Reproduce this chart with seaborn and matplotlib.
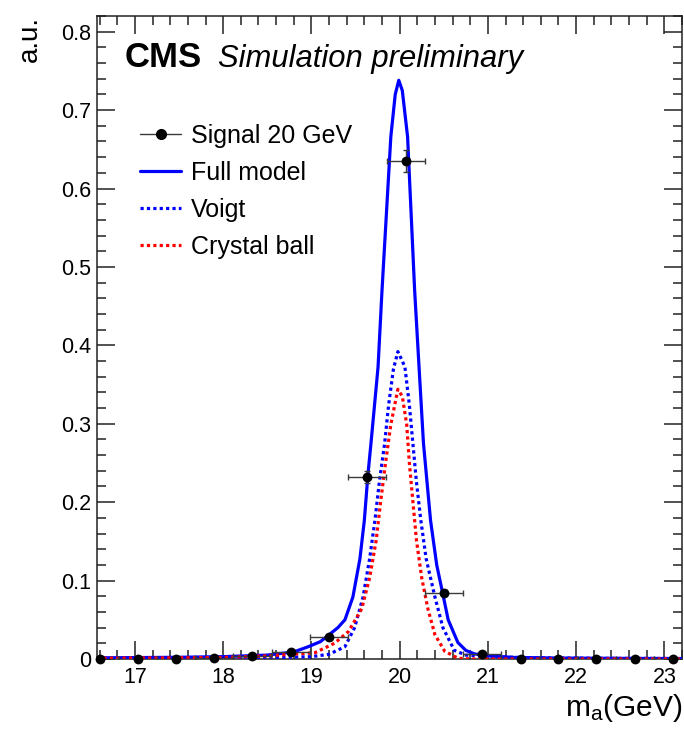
import numpy as np
import pandas as pd
import matplotlib
matplotlib.use("Agg")
import matplotlib.pyplot as plt
from matplotlib.lines import Line2D
from matplotlib.ticker import MultipleLocator
import seaborn as sns

# Binned signal sample (m_a = 20 GeV)
bin_centers = [16.60, 17.03, 17.47, 17.90, 18.33, 18.77, 19.20, 19.63,
               20.07, 20.50, 20.93, 21.37, 21.80, 22.23, 22.67, 23.10]
bin_values = [0.0, 0.0, 0.0, 0.001, 0.004, 0.0085, 0.0276, 0.232,
              0.635, 0.084, 0.006, 0.0, 0.0, 0.0, 0.0, 0.0]
bin_yerr = [0.0, 0.0, 0.0, 0.001, 0.0015, 0.002, 0.003, 0.008,
            0.014, 0.004, 0.0015, 0.0, 0.0, 0.0, 0.0, 0.0]
bin_xerr = [0.217] * 16

# Fitted model curves
full_x = [16.57, 17.0, 17.5, 18.0, 18.5, 18.8, 18.96, 19.10, 19.19, 19.30,
          19.38, 19.47, 19.55, 19.60, 19.64, 19.675, 19.755, 19.80, 19.85,
          19.90, 19.95, 19.99, 20.03, 20.09, 20.13, 20.17, 20.22, 20.27,
          20.35, 20.42, 20.48, 20.55, 20.66, 20.75, 20.85, 21.0, 21.3, 21.8,
          22.5, 23.2]
full_y = [0.0015, 0.0018, 0.0022, 0.003, 0.005, 0.009, 0.0155, 0.022, 0.030,
          0.040, 0.050, 0.079, 0.128, 0.177, 0.2345, 0.275, 0.372, 0.470,
          0.568, 0.666, 0.720, 0.738, 0.725, 0.666, 0.568, 0.470, 0.372,
          0.275, 0.177, 0.120, 0.088, 0.050, 0.021, 0.011, 0.0065, 0.004,
          0.002, 0.0012, 0.0008, 0.0006]

voigt_x = [16.57, 17.5, 18.5, 19.0, 19.2, 19.38, 19.49, 19.585, 19.66, 19.72,
           19.77, 19.83, 19.875, 19.93, 19.98, 20.03, 20.06, 20.11, 20.15,
           20.19, 20.24, 20.30, 20.40, 20.49, 20.62, 20.75, 21.0, 21.5, 22.5,
           23.2]
voigt_y = [0.0008, 0.001, 0.0015, 0.003, 0.006, 0.0157, 0.040, 0.079, 0.128,
           0.177, 0.226, 0.275, 0.324, 0.370, 0.392, 0.380, 0.372, 0.324,
           0.275, 0.226, 0.177, 0.128, 0.079, 0.040, 0.011, 0.005, 0.003,
           0.0015, 0.0008, 0.0006]

cb_x = [16.57, 17.5, 18.0, 18.5, 19.04, 19.26, 19.42, 19.57, 19.66, 19.735,
        19.785, 19.84, 19.90, 19.98, 20.03, 20.08, 20.11, 20.15, 20.19, 20.25,
        20.32, 20.40, 20.51, 20.66, 20.8, 23.2]
cb_y = [0.001, 0.0015, 0.002, 0.004, 0.008, 0.020, 0.035, 0.064, 0.1035,
        0.152, 0.201, 0.250, 0.299, 0.344, 0.335, 0.299, 0.250, 0.201, 0.152,
        0.1035, 0.064, 0.031, 0.010, 0.001, 0.0, 0.0]

x_ticks = [17, 18, 19, 20, 21, 22, 23]
y_ticks = [0, 0.1, 0.2, 0.3, 0.4, 0.5, 0.6, 0.7, 0.8]

sns.set_theme(style="ticks")
plt.rcParams["font.family"] = ["Liberation Sans", "DejaVu Sans"]
plt.rcParams["mathtext.fontset"] = "custom"
plt.rcParams["mathtext.rm"] = "Liberation Sans"
plt.rcParams["mathtext.it"] = "Liberation Sans:italic"
plt.rcParams["text.color"] = "black"
plt.rcParams["axes.labelcolor"] = "black"
plt.rcParams["xtick.labelcolor"] = "black"
plt.rcParams["ytick.labelcolor"] = "black"

fig = plt.figure(figsize=(6.84, 7.30), dpi=100)
ax = fig.add_axes([97 / 684, 1 - 659 / 730, 585 / 684, 643 / 730])

full_df = pd.DataFrame({"m": full_x, "v": full_y})
voigt_df = pd.DataFrame({"m": voigt_x, "v": voigt_y})
cb_df = pd.DataFrame({"m": cb_x, "v": cb_y})
sig_df = pd.DataFrame({"m": bin_centers, "v": bin_values})

blue = "#0000ff"
red = "#ff0000"

sns.lineplot(data=full_df, x="m", y="v", ax=ax, color=blue, lw=2.3,
             sort=False, estimator=None, zorder=3)
sns.lineplot(data=voigt_df, x="m", y="v", ax=ax, color=blue, lw=2.3,
             sort=False, estimator=None, zorder=4, dashes=False)
sns.lineplot(data=cb_df, x="m", y="v", ax=ax, color=red, lw=2.3,
             sort=False, estimator=None, zorder=5, dashes=False)
lines = ax.get_lines()
for ln in lines[1:3]:
    ln.set_linestyle((0, (1.0, 1.0)))
    ln.set_dash_capstyle("butt")

ax.errorbar(bin_centers, bin_values, xerr=bin_xerr, yerr=bin_yerr, fmt="none",
            ecolor="#3a3a3a", elinewidth=1.0, capsize=2.5, capthick=1.0,
            zorder=6)
sns.scatterplot(data=sig_df, x="m", y="v", ax=ax, color="black", s=50,
                linewidth=0, zorder=7, clip_on=False)

ax.set_xlim(16.57, 23.2)
ax.set_ylim(0, 0.82)
ax.set_xticks(x_ticks)
ax.set_yticks(y_ticks)
ax.set_xticklabels([str(t) for t in x_ticks])
ax.set_yticklabels(["0"] + [f"{t:.1f}" for t in y_ticks[1:]])
ax.xaxis.set_minor_locator(MultipleLocator(0.2))
ax.yaxis.set_minor_locator(MultipleLocator(0.02))
ax.tick_params(which="both", direction="in", top=True, right=True,
               width=1.1, color="#222222")
ax.tick_params(which="major", length=13, labelsize=15.5)
ax.tick_params(which="minor", length=6.5)
ax.tick_params(axis="x", which="major", pad=6)
ax.tick_params(axis="y", which="major", pad=4)
for sp in ax.spines.values():
    sp.set_linewidth(1.1)
    sp.set_color("#222222")

ax.set_ylabel("a.u.", fontsize=20, loc="top")
ax.yaxis.set_label_coords(-0.092, 1.0)
ax.set_xlabel(r"m$_{\mathrm{a}}$(GeV)", fontsize=21.5, loc="right")
ax.xaxis.set_label_coords(1.0, -0.052)

ax.text(0.048, 0.9207, "CMS", transform=ax.transAxes, fontsize=25,
        fontweight="bold", va="baseline", ha="left")
ax.text(0.207, 0.9207, "Simulation preliminary", transform=ax.transAxes,
        fontsize=22.3, fontstyle="italic", va="baseline", ha="left")

handles = [
    Line2D([], [], color="#3a3a3a", lw=1.0, marker="o", markersize=7,
           markerfacecolor="black", markeredgecolor="black"),
    Line2D([], [], color=blue, lw=2.3),
    Line2D([], [], color=blue, lw=2.3, linestyle=(0, (1.0, 1.0))),
    Line2D([], [], color=red, lw=2.3, linestyle=(0, (1.0, 1.0))),
]
labels = ["Signal 20 GeV", "Full model", "Voigt", "Crystal ball"]
ax.legend(handles, labels, loc="upper left", bbox_to_anchor=(0.0735, 0.832),
          frameon=False, fontsize=18, handlelength=1.65, handletextpad=0.4,
          labelspacing=0.52, borderpad=0, borderaxespad=0, numpoints=1,
          labelcolor="black")

fig.savefig("out.png", dpi=100)
